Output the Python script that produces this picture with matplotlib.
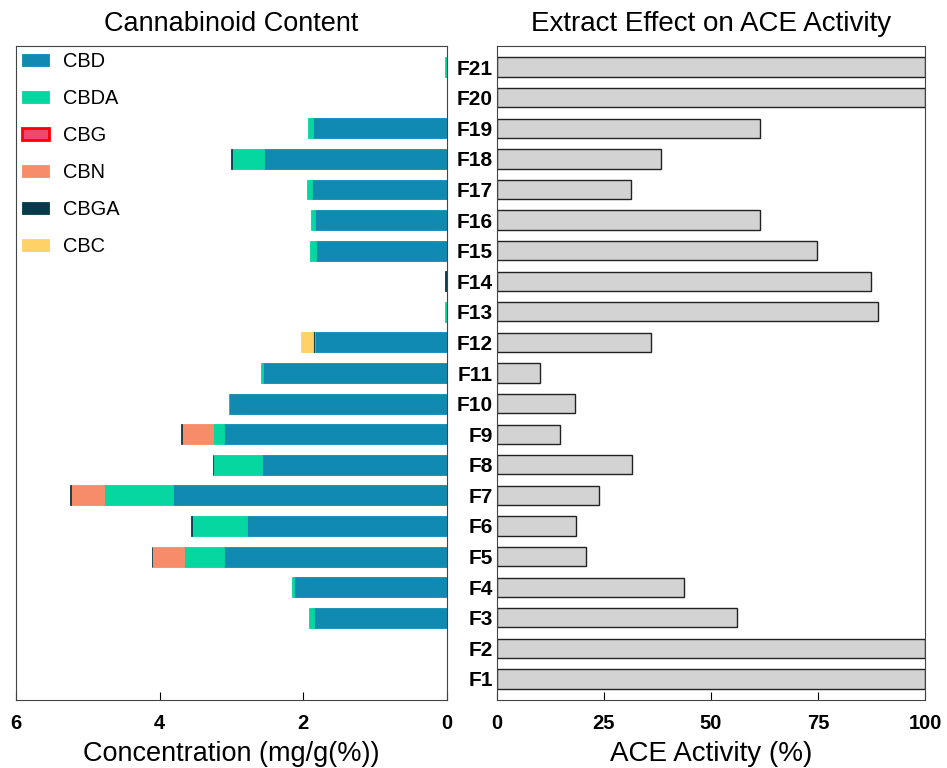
import numpy as np
import matplotlib.pyplot as plt

plt.rcParams['font.family'] = ['Liberation Sans', 'DejaVu Sans']

samples = ['F%d' % i for i in range(1, 22)]

# cannabinoid content (mg/g), F1 .. F21
cbd  = [0, 0, 1.85, 2.13, 3.11, 2.78, 3.81, 2.58, 3.10, 3.03, 2.56, 1.83, 0, 0, 1.82, 1.84, 1.88, 2.54, 1.87, 0, 0]
cbda = [0, 0, 0.07, 0.02, 0.55, 0.77, 0.97, 0.67, 0.16, 0.01, 0.03, 0.02, 0.03, 0, 0.08, 0.05, 0.07, 0.45, 0.06, 0, 0.03]
cbg  = [0] * 21
cbn  = [0, 0, 0, 0, 0.44, 0, 0.46, 0, 0.43, 0, 0, 0, 0, 0, 0, 0, 0, 0, 0, 0, 0]
cbga = [0, 0, 0, 0, 0.01, 0.01, 0.01, 0.01, 0.01, 0, 0, 0.02, 0, 0.02, 0, 0, 0, 0.01, 0, 0, 0]
cbc  = [0, 0, 0, 0, 0, 0, 0, 0, 0, 0, 0, 0.16, 0, 0, 0, 0, 0, 0, 0, 0, 0]

# ACE activity (%), F1 .. F21
ace = [100, 100, 56, 43.7, 20.8, 18.5, 23.8, 31.5, 14.7, 18.2, 10, 36, 89, 87.4, 74.8, 61.4, 31.3, 38.3, 61.4, 100, 100]

series = [('CBD', cbd, '#118AB2', '#118AB2'),
          ('CBDA', cbda, '#06D6A0', '#06D6A0'),
          ('CBG', cbg, '#EF476F', '#FF0000'),
          ('CBN', cbn, '#F78C6B', '#F78C6B'),
          ('CBGA', cbga, '#073B4C', '#073B4C'),
          ('CBC', cbc, '#FFD166', '#FFD166')]

y = np.arange(1, 22)

fig = plt.figure(figsize=(9.47, 7.68), dpi=100)
ax1 = fig.add_axes([0.0169, 0.0885, 0.455, 0.8516])
ax2 = fig.add_axes([0.5248, 0.0885, 0.452, 0.8516])

# left: stacked horizontal bars, axis reversed
left = np.zeros(21)
for name, vals, fc, ec in series:
    vals = np.array(vals)
    nz = vals > 0
    ax1.barh(y[nz], vals[nz], left=left[nz], height=0.65, color=fc,
             edgecolor=ec, linewidth=0.6)
    # legend handle
    ax1.barh([np.nan], [0], color=fc, edgecolor=ec,
             linewidth=2 if name == 'CBG' else 0.6, label=name)
    left += vals

ax1.set_xlim(6, 0)
ax1.set_ylim(0.31, 21.69)
ax1.set_yticks([])
ax1.set_xticks([6, 4, 2, 0])
ax1.set_xticklabels(['6', '4', '2', '0'], fontweight='bold', fontsize=14.5)
ax1.tick_params(axis='x', direction='in', length=6, pad=10)
ax1.set_title('Cannabinoid Content', fontsize=19.5, pad=11)
ax1.set_xlabel('Concentration (mg/g(%))', fontsize=19.5, labelpad=6)
for s in ax1.spines.values():
    s.set_color('#444444')

leg = ax1.legend(loc='upper left', frameon=False, fontsize=14.4,
                 handlelength=1.35, handleheight=0.6, labelspacing=0.9,
                 handletextpad=0.7, borderaxespad=0.1, borderpad=0.2)

# right: ACE activity
ax2.barh(y, ace, height=0.63, color='#D3D3D3', edgecolor='#222222', linewidth=1)
ax2.set_xlim(0, 100)
ax2.set_ylim(0.31, 21.69)
ax2.set_yticks(y)
ax2.set_yticklabels(samples, fontweight='bold', fontsize=15)
ax2.tick_params(axis='y', length=0, pad=3)
ax2.set_xticks([0, 25, 50, 75, 100])
ax2.set_xticklabels(['0', '25', '50', '75', '100'], fontweight='bold', fontsize=14.5)
ax2.tick_params(axis='x', direction='in', length=6, pad=10)
ax2.set_title('Extract Effect on ACE Activity', fontsize=20, pad=11)
ax2.set_xlabel('ACE Activity (%)', fontsize=20, labelpad=6)
for s in ax2.spines.values():
    s.set_color('#444444')

plt.savefig('out.png', dpi=100)
